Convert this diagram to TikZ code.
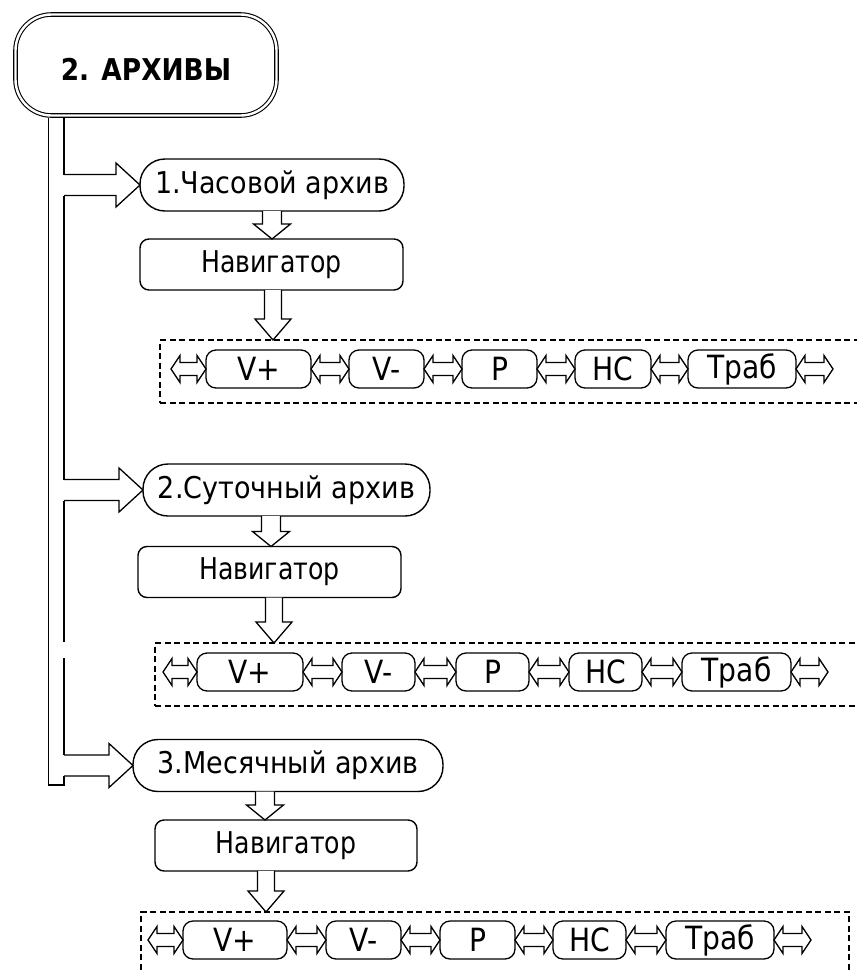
\documentclass[tikz,border=0pt]{standalone}
\usepackage{fontspec}
\setmainfont{DejaVu Sans}
\newfontfamily\lfont{DejaVu Sans}[FakeStretch=0.84]
\newfontfamily\afont{DejaVu Sans}[FakeStretch=0.9]
\newfontfamily\sfont{DejaVu Sans}[FakeStretch=0.88]
\newfontfamily\tfont{DejaVu Sans}[FakeStretch=0.88]
\usetikzlibrary{calc}
\tikzset{
  ln/.style={line width=1.4pt},
  blk/.style={line width=1.3pt, fill=white, line join=miter},
  arch/.style={draw, font=\afont\fontsize{30}{33}\selectfont, line width=1.4pt, rounded corners=25pt, minimum height=52pt, inner sep=0pt, outer sep=0pt},
  nav/.style={draw, font=\lfont\fontsize{30}{33}\selectfont, line width=1.4pt, rounded corners=9pt, minimum height=51pt, minimum width=263pt, inner sep=0pt, outer sep=0pt},
  sbox/.style={draw, font=\sfont\fontsize{32}{35}\selectfont, line width=1.3pt, rounded corners=10pt, minimum height=38pt, inner sep=0pt, outer sep=0pt},
  dbox/.style={draw, dash pattern=on 6pt off 3.5pt, line width=1.3pt, anchor=north west, inner sep=0pt, outer sep=0pt},
}
% down block arrow: #1 upper anchor, #2 tip anchor, #3 x, #4 head length, #5 head half, #6 shaft half
\newcommand\mydarrow[6]{%
  \coordinate (xx) at (#3,0);
  \coordinate (pp) at (#1 -| xx);
  \coordinate (qq) at (#2 -| xx);
  \draw[blk] ($(pp)+(-#6,0)$) -- ($(qq)+(-#6,-#4)$) -- ($(qq)+(-#5,-#4)$) -- (qq) -- ($(qq)+(#5,-#4)$) -- ($(qq)+(#6,-#4)$) -- ($(pp)+(#6,0)$);}
% right block arrow: #1 tail (on bar), #2 tip
\newcommand\myrarrow[2]{%
  \draw[blk] ($(#1)+(0,-10.5)$) -- ($(#2)+(-24,-10.5)$) -- ($(#2)+(-24,-22)$) -- (#2) -- ($(#2)+(-24,22)$) -- ($(#2)+(-24,10.5)$) -- ($(#1)+(0,10.5)$);}
% double-headed block arrow between two points on one level
\newcommand\mydbl[2]{%
  \coordinate (ua) at (#1); \coordinate (ub) at (#2);
  \draw[blk] (ua) -- ($(ua)+(9,-13.5)$) -- ($(ua)+(9,-6.5)$) -- ($(ub)+(-9,-6.5)$) -- ($(ub)+(-9,-13.5)$) -- (ub) -- ($(ub)+(-9,13.5)$) -- ($(ub)+(-9,6.5)$) -- ($(ua)+(9,6.5)$) -- ($(ua)+(9,13.5)$) -- cycle;}
\begin{document}
\begin{tikzpicture}[x=1pt,y=-1pt]
\clip (0,0) rectangle (857,970);
\fill[white] (0,0) rectangle (857,970);

% title
\node[draw, double, double distance=2.4pt, line width=1.1pt, rounded corners=36pt,
      minimum width=261pt, minimum height=101pt, inner sep=0pt, outer sep=0pt,
      text height=30pt, text depth=0pt,
      font=\tfont\bfseries\fontsize{30}{33}\selectfont] (T) at (146,65) {2. АРХИВЫ};

% archive boxes
\node[arch, minimum width=264pt] (A1) at (272,185) {1.Часовой архив};
\node[arch, minimum width=287pt] (A2) at (286.5,490) {2.Суточный архив};
\node[arch, minimum width=310pt] (A3) at (288,765.5) {3.Месячный архив};

% navigators
\node[nav] (N1) at (271.5,264.5) {Навигатор};
\node[nav] (N2) at (269.5,572) {Навигатор};
\node[nav, minimum width=262pt] (N3) at (286,845.5) {Навигатор};

% dashed frames
\node[dbox, minimum width=760pt, minimum height=63pt] (D1) at (160,340) {};
\node[dbox, minimum width=760pt, minimum height=63pt] (D2) at (155,643) {};
\node[dbox, minimum width=708pt, minimum height=100pt] (D3) at (141,912) {};

% bar
\coordinate (barL) at (48.5,0);
\coordinate (barR) at (64,0);
\coordinate (bt) at ($(T.south)+(0,2.3)$);
\coordinate (bb) at (0,785);
\coordinate (j1) at (A1.west -| barR);
\coordinate (j2) at (A2.west -| barR);
\coordinate (j3) at (A3.west -| barR);
\coordinate (g1) at (64,642);
\coordinate (g2) at (64,658);
\draw[ln] (bt -| barL) -- (bb -| barL) -- (bb -| barR) -- ($(j3)+(0,10.5)$);
\draw[ln] (bt -| barR) -- ($(j1)+(0,-10.5)$);
\draw[ln] ($(j1)+(0,10.5)$) -- ($(j2)+(0,-10.5)$);
\draw[ln] ($(j2)+(0,10.5)$) -- (g1);
\draw[ln] (g2) -- ($(j3)+(0,-10.5)$);

% bar arrows
\myrarrow{j1}{A1.west}
\myrarrow{j2}{A2.west}
\myrarrow{j3}{A3.west}

% down arrows
\mydarrow{A1.south}{N1.north}{272}{15}{18.5}{9.5}
\mydarrow{A2.south}{N2.north}{271}{15}{18.5}{9.5}
\mydarrow{A3.south}{N3.north}{265}{15}{18.5}{9.5}
\mydarrow{N1.south}{D1.north}{273}{21}{18}{8.5}
\mydarrow{N2.south}{D2.north}{274}{21}{18}{8.5}
\mydarrow{N3.south}{D3.north}{266}{21}{18}{8.5}

% row 1
\node[sbox, minimum width=105pt] (r1a) at (258.5,369) {V+};
\node[sbox, minimum width=75pt] (r1b) at (386.5,369) {V-};
\node[sbox, minimum width=75pt] (r1c) at (499.5,369) {P};
\node[sbox, minimum width=76pt] (r1d) at (613,369) {НС};
\node[sbox, minimum width=108pt] (r1e) at (742,369) {Траб};
\coordinate (r1s) at (171,369);
\coordinate (r1z) at (833,369);
\mydbl{r1s}{r1a.west}
\mydbl{r1a.east}{r1b.west}
\mydbl{r1b.east}{r1c.west}
\mydbl{r1c.east}{r1d.west}
\mydbl{r1d.east}{r1e.west}
\mydbl{r1e.east}{r1z}

% row 2
\node[sbox, minimum width=106pt] (r2a) at (250,672) {V+};
\node[sbox, minimum width=73pt] (r2b) at (378.5,672) {V-};
\node[sbox, minimum width=73pt] (r2c) at (492.5,672) {P};
\node[sbox, minimum width=73pt] (r2d) at (605.5,672) {НС};
\node[sbox, minimum width=109pt] (r2e) at (736.5,672) {Траб};
\coordinate (r2s) at (163,672);
\coordinate (r2z) at (828,672);
\mydbl{r2s}{r2a.west}
\mydbl{r2a.east}{r2b.west}
\mydbl{r2b.east}{r2c.west}
\mydbl{r2c.east}{r2d.west}
\mydbl{r2d.east}{r2e.west}
\mydbl{r2e.east}{r2z}

% row 3
\node[sbox, minimum width=104pt] (r3a) at (235,940) {V+};
\node[sbox, minimum width=75pt] (r3b) at (363.5,940) {V-};
\node[sbox, minimum width=75pt] (r3c) at (477.5,940) {P};
\node[sbox, minimum width=73pt] (r3d) at (589.5,940) {НС};
\node[sbox, minimum width=108pt] (r3e) at (720,940) {Траб};
\coordinate (r3s) at (148,940);
\coordinate (r3z) at (811,940);
\mydbl{r3s}{r3a.west}
\mydbl{r3a.east}{r3b.west}
\mydbl{r3b.east}{r3c.west}
\mydbl{r3c.east}{r3d.west}
\mydbl{r3d.east}{r3e.west}
\mydbl{r3e.east}{r3z}
\end{tikzpicture}
\end{document}
